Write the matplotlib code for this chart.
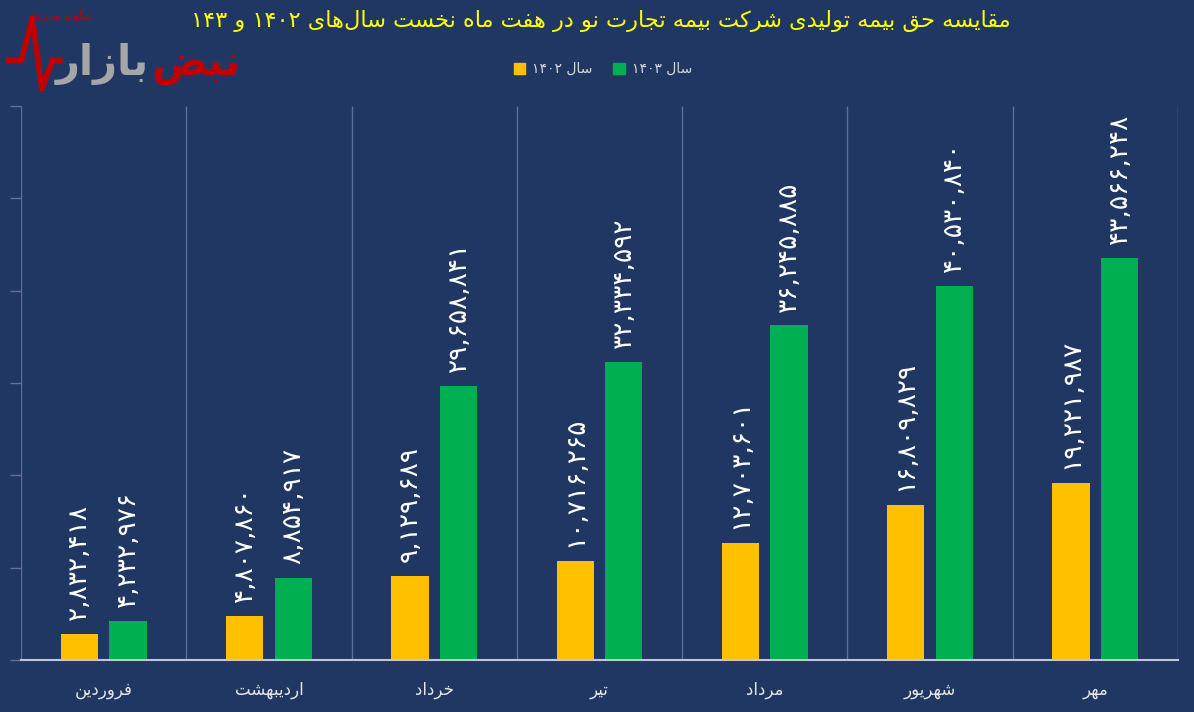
import matplotlib
matplotlib.use('Agg')
import matplotlib.pyplot as plt
from matplotlib.patches import Patch
import numpy as np

# داده‌ها
months = ['فروردین', 'اردیبهشت', 'خرداد', 'تیر', 'مرداد', 'شهریور', 'مهر']
values_1402 = [2832418, 4807860, 9129689, 10716265, 12703601, 16809829, 19221987]
values_1403 = [4232976, 8854917, 29658841, 32334592, 36245885, 40530840, 43566248]
label_1402 = ['۲,۸۳۲,۴۱۸', '۴,۸۰۷,۸۶۰', '۹,۱۲۹,۶۸۹', '۱۰,۷۱۶,۲۶۵', '۱۲,۷۰۳,۶۰۱', '۱۶,۸۰۹,۸۲۹', '۱۹,۲۲۱,۹۸۷']
label_1403 = ['۴,۲۳۲,۹۷۶', '۸,۸۵۴,۹۱۷', '۲۹,۶۵۸,۸۴۱', '۳۲,۳۳۴,۵۹۲', '۳۶,۲۴۵,۸۸۵', '۴۰,۵۳۰,۸۴۰', '۴۳,۵۶۶,۲۴۸']
legend_names = ['سال ۱۴۰۲', 'سال ۱۴۰۳']
title = 'مقایسه حق بیمه تولیدی شرکت بیمه تجارت نو در هفت ماه نخست سال‌های ۱۴۰۲ و ۱۴۳'

# شکل‌دهی ساده حروف فارسی (matplotlib خودش حروف را به هم وصل نمی‌کند)
# (isolated, final, initial, medial)
FORMS = {
    'ا': (0xFE8D, 0xFE8E), 'آ': (0xFE81, 0xFE82), 'د': (0xFEA9, 0xFEAA), 'ذ': (0xFEAB, 0xFEAC),
    'ر': (0xFEAD, 0xFEAE), 'ز': (0xFEAF, 0xFEB0), 'ژ': (0xFB8A, 0xFB8B), 'و': (0xFEED, 0xFEEE),
    'ب': (0xFE8F, 0xFE90, 0xFE91, 0xFE92), 'پ': (0xFB56, 0xFB57, 0xFB58, 0xFB59),
    'ت': (0xFE95, 0xFE96, 0xFE97, 0xFE98), 'ث': (0xFE99, 0xFE9A, 0xFE9B, 0xFE9C),
    'ج': (0xFE9D, 0xFE9E, 0xFE9F, 0xFEA0), 'چ': (0xFB7A, 0xFB7B, 0xFB7C, 0xFB7D),
    'ح': (0xFEA1, 0xFEA2, 0xFEA3, 0xFEA4), 'خ': (0xFEA5, 0xFEA6, 0xFEA7, 0xFEA8),
    'س': (0xFEB1, 0xFEB2, 0xFEB3, 0xFEB4), 'ش': (0xFEB5, 0xFEB6, 0xFEB7, 0xFEB8),
    'ص': (0xFEB9, 0xFEBA, 0xFEBB, 0xFEBC), 'ض': (0xFEBD, 0xFEBE, 0xFEBF, 0xFEC0),
    'ط': (0xFEC1, 0xFEC2, 0xFEC3, 0xFEC4), 'ع': (0xFEC9, 0xFECA, 0xFECB, 0xFECC),
    'ف': (0xFED1, 0xFED2, 0xFED3, 0xFED4), 'ق': (0xFED5, 0xFED6, 0xFED7, 0xFED8),
    'ک': (0xFB8E, 0xFB8F, 0xFB90, 0xFB91), 'گ': (0xFB92, 0xFB93, 0xFB94, 0xFB95),
    'ل': (0xFEDD, 0xFEDE, 0xFEDF, 0xFEE0), 'م': (0xFEE1, 0xFEE2, 0xFEE3, 0xFEE4),
    'ن': (0xFEE5, 0xFEE6, 0xFEE7, 0xFEE8), 'ه': (0xFEE9, 0xFEEA, 0xFEEB, 0xFEEC),
    'ی': (0xFBFC, 0xFBFD, 0xFBFE, 0xFBFF),
}


def shape_word(word):
    out = []
    for i, c in enumerate(word):
        if c not in FORMS:
            out.append(c)
            continue
        prev = word[i - 1] if i > 0 else ''
        nxt = word[i + 1] if i + 1 < len(word) else ''
        join_prev = prev in FORMS and len(FORMS[prev]) == 4
        join_next = len(FORMS[c]) == 4 and nxt in FORMS
        f = FORMS[c]
        if join_prev and join_next:
            out.append(chr(f[3]))
        elif join_prev:
            out.append(chr(f[1]))
        elif join_next:
            out.append(chr(f[2]))
        else:
            out.append(chr(f[0]))
    return ''.join(out).replace('\u200c', '')


def fa(text):
    words = []
    for w in text.split(' '):
        if any(ch in FORMS for ch in w):
            words.append(shape_word(w)[::-1])
        else:
            words.append(w)
    return ' '.join(words[::-1])


plt.rcParams['font.family'] = ['DejaVu Sans']
bg = '#203764'
c_1402 = '#FFC000'
c_1403 = '#00B050'

fig = plt.figure(figsize=(11.94, 7.12), dpi=100, facecolor=bg)
ax = fig.add_axes([0.0176, 0.073, 0.969, 0.778])
ax.set_facecolor(bg)

x = np.arange(len(months))
w = 0.225
off = 0.147
b1 = ax.bar(x - off, values_1402, w, color=c_1402)
b2 = ax.bar(x + off, values_1403, w, color=c_1403)

for bars, labels in [(b1, label_1402), (b2, label_1403)]:
    for rect, lab in zip(bars, labels):
        ax.annotate(lab, (rect.get_x() + rect.get_width() / 2, rect.get_height()),
                    xytext=(0, 10), textcoords='offset points', rotation=90,
                    ha='center', va='bottom', color='white', fontsize=19)

# خطوط جداکننده ماه‌ها
ax.vlines(np.arange(-0.5, len(months)), 0, 60e6, color='#5D6F97', lw=1)

ax.set_xlim(-0.5, len(months) - 0.5)
ax.set_ylim(0, 60e6)
ax.set_yticks(np.arange(0, 60e6 + 1, 10e6))
ax.set_yticklabels([])
ax.tick_params(axis='y', length=8, color='#6E6A9A', width=1)
ax.set_xticks(x)
ax.set_xticklabels([fa(m) for m in months], color='#E6E6E6', fontsize=12)
ax.tick_params(axis='x', length=0, pad=15)
for s in ['top', 'right', 'left']:
    ax.spines[s].set_visible(False)
ax.spines['bottom'].set_color('#C0C6D6')
ax.spines['bottom'].set_linewidth(1.5)

fig.text(0.503, 0.97, fa(title), color='#FFFF00', fontsize=16.2, ha='center', va='center')

handles = [Patch(color=c_1402, label=fa(legend_names[0])),
           Patch(color=c_1403, label=fa(legend_names[1]))]
fig.legend(handles=handles, loc='center', bbox_to_anchor=(0.505, 0.903), ncol=2,
           frameon=False, fontsize=10, labelcolor='#D9D9D9', handlelength=0.8,
           handleheight=0.8, handletextpad=0.5, columnspacing=1.5)

# لوگو
fig.text(0.026, 0.978, fa('چگونه می‌زند'), color='#C00000', fontsize=8, ha='left', va='center')
fig.text(0.125, 0.91, fa('بازار'), color='#A6A6A6', fontsize=30, fontweight='bold', ha='right', va='center')
fig.text(0.127, 0.91, fa('نبض'), color='#C00000', fontsize=30, fontweight='bold', ha='left', va='center')
fig.lines.append(plt.Line2D([0.007, 0.018, 0.027, 0.035, 0.044, 0.05],
                            [0.915, 0.915, 0.975, 0.875, 0.915, 0.915],
                            transform=fig.transFigure, color='#C00000', lw=4))

fig.savefig('out.png', dpi=100, facecolor=bg)
